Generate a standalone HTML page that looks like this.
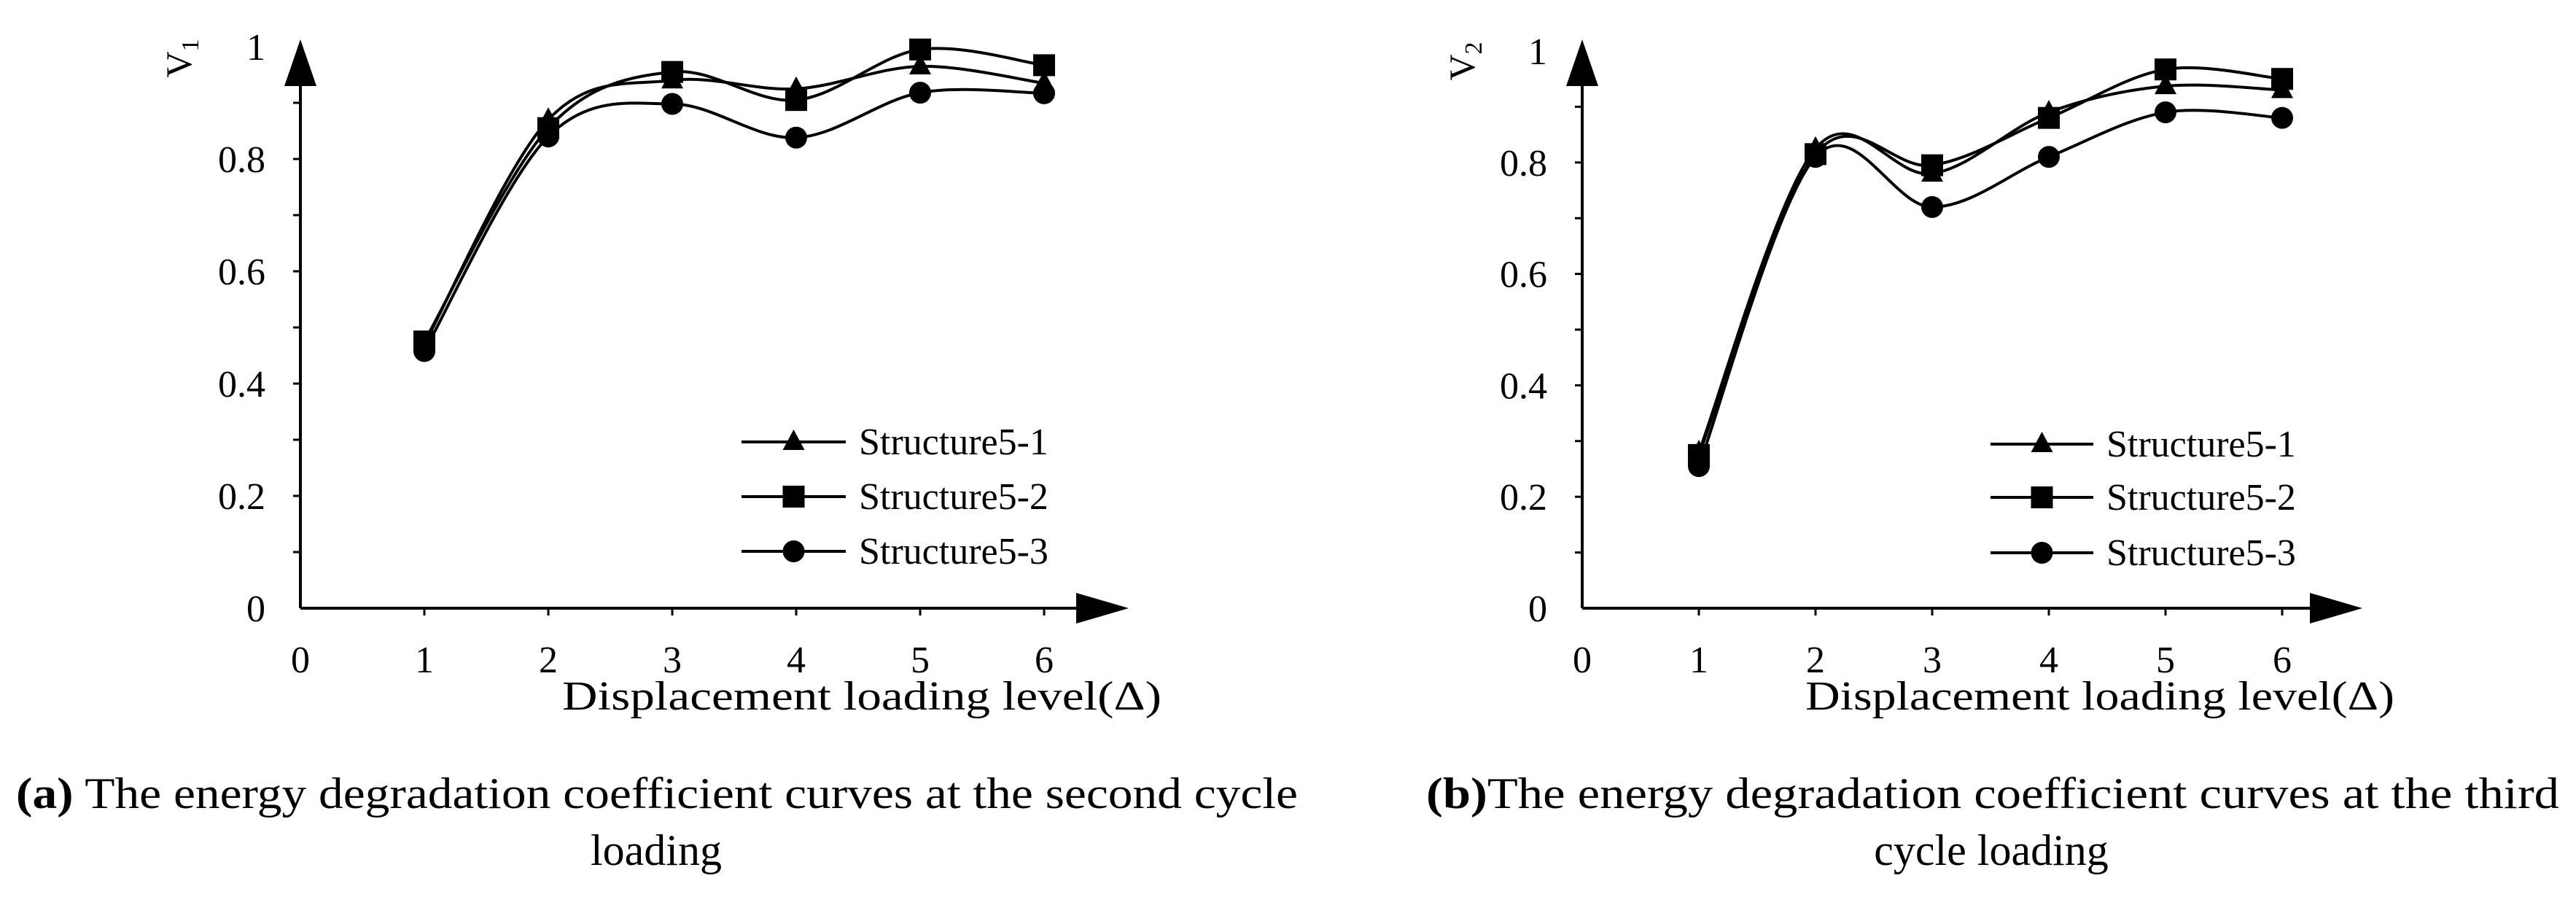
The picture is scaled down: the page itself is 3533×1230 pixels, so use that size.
<!DOCTYPE html>
<html><head><meta charset="utf-8"><style>html,body{margin:0;padding:0;background:#fff}svg{display:block}</style></head>
<body>
<svg id="fig" width="3533" height="1230" viewBox="0 0 3533 1230" xmlns="http://www.w3.org/2000/svg" font-family="'Liberation Serif', serif">
<rect width="3533" height="1230" fill="#fff"/>
<g id="chartA"></g>
<g id="chartB"></g>
<text x="22" y="1108" font-size="60" textLength="1758" lengthAdjust="spacingAndGlyphs"><tspan font-weight="bold">(a)</tspan> The energy degradation coefficient curves at the second cycle</text>
<text x="900" y="1186" font-size="60" text-anchor="middle">loading</text>
<text x="1956" y="1108" font-size="60" textLength="1554" lengthAdjust="spacingAndGlyphs"><tspan font-weight="bold">(b)</tspan>The energy degradation coefficient curves at the third</text>
<text x="2731" y="1186" font-size="60" text-anchor="middle">cycle loading</text>
</svg>
<script>
const categories = [1, 2, 3, 4, 5, 6];
const xTicks = [0, 1, 2, 3, 4, 5, 6];
const yTicks = [0, 0.2, 0.4, 0.6, 0.8, 1];
const seriesNames = ["Structure5-1", "Structure5-2", "Structure5-3"];
const a_s1 = [0.47, 0.87, 0.94, 0.925, 0.965, 0.935];
const a_s2 = [0.475, 0.855, 0.955, 0.905, 0.995, 0.967];
const a_s3 = [0.458, 0.84, 0.898, 0.838, 0.918, 0.917];
const b_s1 = [0.28, 0.825, 0.78, 0.89, 0.937, 0.93];
const b_s2 = [0.275, 0.815, 0.795, 0.88, 0.967, 0.95];
const b_s3 = [0.255, 0.81, 0.72, 0.81, 0.89, 0.88];

const NS = "http://www.w3.org/2000/svg";
function mk(tag, attrs, parent) {
  const e = document.createElementNS(NS, tag);
  for (const k in attrs) e.setAttribute(k, attrs[k]);
  parent.appendChild(e);
  return e;
}
function drawChart(g, cfg, series) {
  const X = v => cfg.x0 + v * cfg.xu;
  const Y = v => cfg.y0 - v * (cfg.y0 - cfg.y1);
  const ya = mk("line", {x1: X(0), y1: Y(0), x2: X(0), y2: cfg.arrowTop + 40, stroke: "#000", "stroke-width": 4}, g);
  
  
  const yar = mk("polygon", {points: `${X(0)},${cfg.arrowTop} ${X(0)-22},${cfg.arrowTop+64} ${X(0)+22},${cfg.arrowTop+64}`, fill: "#000"}, g);
  
  
  const xa = mk("line", {x1: X(0), y1: Y(0), x2: cfg.arrowRight - 40, y2: Y(0), stroke: "#000", "stroke-width": 4}, g);
  
  
  const xar = mk("polygon", {points: `${cfg.arrowRight},${Y(0)} ${cfg.arrowRight-72},${Y(0)-21} ${cfg.arrowRight-72},${Y(0)+21}`, fill: "#000"}, g);
  
  
  for (let i = 1; i < 10; i++) {
    const v = i / 10;
    mk("line", {x1: X(0) - 10, y1: Y(v), x2: X(0), y2: Y(v), stroke: "#000", "stroke-width": 3}, g);
  }
  yTicks.forEach(v => {
    const t = mk("text", {x: X(0) - 48, y: Y(v) + 18, "font-size": 52, "text-anchor": "end"}, g);
    t.textContent = String(v);
    
    
  });
  xTicks.forEach(v => {
    if (v > 0) mk("line", {x1: X(v), y1: Y(0), x2: X(v), y2: Y(0) + 10, stroke: "#000", "stroke-width": 3}, g);
    const t = mk("text", {x: X(v), y: Y(0) + 88, "font-size": 52, "text-anchor": "middle"}, g);
    t.textContent = String(v);
    
    
  });
  const xt = mk("text", {x: cfg.titleX, y: 973, "font-size": 56, textLength: cfg.titleW, lengthAdjust: "spacingAndGlyphs"}, g);
  xt.textContent = "Displacement loading level(Δ)";
  
  
  const yt = mk("text", {x: 0, y: 0, "font-size": 50, transform: `translate(${cfg.vx},${cfg.vy}) rotate(-90)`, "text-anchor": "middle"}, g);
  yt.innerHTML = cfg.vLabel;
  
  
  const markers = ["tri", "sq", "circ"];
  function marker(type, cx, cy, parent) {
    let m;
    if (type === "tri") m = mk("polygon", {points: `${cx},${cy-17} ${cx-15},${cy+11} ${cx+15},${cy+11}`, fill: "#000"}, parent);
    else if (type === "sq") m = mk("rect", {x: cx - 15, y: cy - 15, width: 30, height: 30, fill: "#000"}, parent);
    else m = mk("circle", {cx: cx, cy: cy, r: 15, fill: "#000"}, parent);
    return m;
  }
  series.forEach((vals, si) => {
    const pts = vals.map((v, i) => [X(categories[i]), Y(v)]);
    let d = `M${pts[0][0]},${pts[0][1]}`;
    for (let i = 0; i < pts.length - 1; i++) {
      const p0 = pts[Math.max(0, i - 1)], p1 = pts[i], p2 = pts[i + 1], p3 = pts[Math.min(pts.length - 1, i + 2)];
      const c1 = [p1[0] + (p2[0] - p0[0]) / 6, p1[1] + (p2[1] - p0[1]) / 6];
      const c2 = [p2[0] - (p3[0] - p1[0]) / 6, p2[1] - (p3[1] - p1[1]) / 6];
      d += ` C${c1[0]},${c1[1]} ${c2[0]},${c2[1]} ${p2[0]},${p2[1]}`;
    }
    const path = mk("path", {d: d, fill: "none", stroke: "#000", "stroke-width": 4}, g);
    
    
    pts.forEach(p => {
      const m = marker(markers[si], p[0], p[1], g);
      
      
    });
    const ly = cfg.legY[si];
    const lg = mk("g", {}, g);
    
    
    mk("line", {x1: cfg.legX1, y1: ly, x2: cfg.legX2, y2: ly, stroke: "#000", "stroke-width": 4}, lg);
    marker(markers[si], (cfg.legX1 + cfg.legX2) / 2, ly, lg);
    const lt = mk("text", {x: cfg.legX2 + 18, y: ly + 17, "font-size": 52}, lg);
    lt.textContent = seriesNames[si];
  });
}
drawChart(document.getElementById("chartA"),
  {x0: 412, xu: 170, y0: 834, y1: 64, arrowTop: 54, arrowRight: 1548, titleX: 771, titleW: 822,
   vx: 262, vy: 80, vLabel: 'V<tspan font-size="34" dy="10">1</tspan>',
   legX1: 1017, legX2: 1160, legY: [606, 681, 756]},
  [a_s1, a_s2, a_s3]);
drawChart(document.getElementById("chartB"),
  {x0: 2170, xu: 160, y0: 834, y1: 70, arrowTop: 54, arrowRight: 3240, titleX: 2476, titleW: 808,
   vx: 2022, vy: 84, vLabel: 'V<tspan font-size="34" dy="10">2</tspan>',
   legX1: 2730, legX2: 2871, legY: [609, 682, 758]},
  [b_s1, b_s2, b_s3]);
</script>
</body></html>
